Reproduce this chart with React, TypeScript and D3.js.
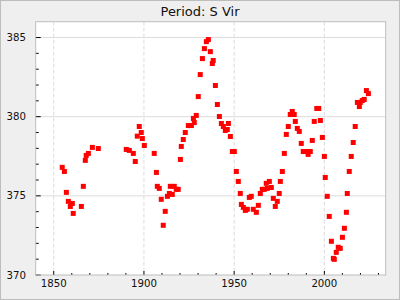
import React from "react";
import * as d3 from "d3";

const years: number[] = [
  1854.7, 1855.9, 1857.0, 1858.1, 1859.2, 1860.3, 1860.8, 1865.3, 1866.4, 1867.5,
  1868.0, 1869.2, 1871.4, 1874.7, 1890.2, 1891.9, 1894.1, 1895.2, 1896.3, 1897.4,
  1898.5, 1899.1, 1900.2, 1905.7, 1906.9, 1907.4, 1908.5, 1909.6, 1910.7, 1911.8,
  1913.0, 1914.1, 1914.6, 1915.7, 1916.8, 1917.9, 1919.0, 1920.2, 1920.7, 1921.8,
  1922.9, 1924.6, 1926.3, 1927.4, 1927.9, 1929.0, 1930.1, 1931.2, 1932.4, 1933.5,
  1934.6, 1935.7, 1936.8, 1937.9, 1938.4, 1939.6, 1940.7, 1941.8, 1942.9, 1944.0,
  1945.1, 1946.2, 1946.8, 1947.9, 1949.0, 1950.1, 1951.2, 1952.3, 1953.4, 1954.0,
  1955.1, 1956.2, 1957.3, 1958.4, 1959.5, 1960.6, 1962.3, 1963.4, 1964.5, 1965.6,
  1966.7, 1967.8, 1968.4, 1969.5, 1970.6, 1971.7, 1972.8, 1973.9, 1975.0, 1975.6,
  1976.7, 1977.8, 1978.9, 1980.0, 1981.1, 1982.2, 1983.3, 1983.9, 1985.0, 1986.1,
  1987.2, 1988.3, 1990.5, 1991.0, 1992.2, 1993.3, 1994.4, 1995.8, 1996.9, 1997.8,
  1998.9, 2000.0, 2000.5, 2001.6, 2002.7, 2003.9, 2005.0, 2005.5, 2006.6, 2007.7,
  2008.8, 2010.0, 2011.1, 2012.2, 2012.7, 2013.8, 2014.9, 2016.0, 2017.1, 2018.3,
  2019.4, 2019.9, 2021.0, 2022.1, 2023.3, 2024.4,
];

const periods: number[] = [
  376.80, 376.54, 375.22, 374.65, 374.33, 374.52, 373.89, 374.33, 375.60, 377.24,
  377.55, 377.68, 378.06, 377.99, 377.93, 377.87, 377.68, 377.17, 378.77, 379.38,
  379.00, 378.62, 378.18, 377.68, 376.48, 375.60, 375.47, 374.78, 373.14, 374.02,
  374.97, 375.15, 375.60, 375.09, 375.60, 375.41, 375.41, 377.30, 378.12, 378.56,
  379.00, 379.44, 379.44, 379.89, 379.63, 380.08, 381.27, 382.66, 383.67, 384.30,
  384.74, 384.87, 384.11, 383.36, 383.55, 381.97, 380.77, 380.01, 379.57, 379.38,
  379.13, 379.19, 379.57, 378.75, 377.80, 377.80, 376.54, 375.91, 375.15, 374.46,
  374.27, 374.08, 374.15, 374.90, 374.97, 374.15, 373.96, 374.40, 375.15, 375.41,
  375.41, 375.79, 375.47, 375.91, 375.53, 374.84, 374.33, 374.65, 375.15, 375.91,
  376.54, 377.68, 378.88, 379.38, 380.14, 380.33, 380.14, 379.70, 379.26, 379.07,
  378.31, 377.80, 377.80, 377.62, 377.80, 378.50, 379.70, 380.52, 380.52, 379.76,
  378.69, 377.49, 376.16, 374.97, 373.70, 372.13, 371.05, 370.99, 371.43, 371.75,
  371.68, 372.38, 372.95, 373.96, 375.15, 376.54, 377.49, 378.37, 379.38, 380.90,
  380.64, 380.90, 381.02, 381.09, 381.65, 381.46,
];

const xMajorTicks: number[] = [1850, 1900, 1950, 2000];
const yMajorTicks: number[] = [370, 375, 380, 385];
const titleText = "Period: S Vir";

const W = 400;
const H = 300;
const PL = 35.7;
const PR = 385.7;
const PT = 21.7;
const PB = 275;
const FONT = "DejaVu Sans, sans-serif";

export default function App() {
  const x = d3.scaleLinear().domain([1840, 2034]).range([PL, PR]);
  const y = d3.scaleLinear().domain([370, 386]).range([PB, PT]);
  const xMinor = d3.range(1850, 2034, 10).filter((v) => !xMajorTicks.includes(v));
  const yMinor = d3.range(371, 386, 1).filter((v) => !yMajorTicks.includes(v));
  const pts = years.map((yr, i) => ({ yr, p: periods[i] }));
  const S = 5;
  return (
    <svg
      width={W}
      height={H}
      style={{ position: "fixed", left: 0, top: 0, display: "block" }}
      fontFamily={FONT}
    >
      <rect x={0.5} y={0.5} width={W - 1} height={H - 1} fill="#efefef" stroke="#bdbdbd" />
      <text x={200} y={15.7} textAnchor="middle" fontSize={13} fill="#111">
        {titleText}
      </text>
      <rect x={PL} y={PT} width={PR - PL} height={PB - PT} fill="#ffffff" />
      {xMajorTicks.map((t) => (
        <line key={"gx" + t} x1={x(t)} x2={x(t)} y1={PT} y2={PB} stroke="#dcdcdc" strokeDasharray="4,2" />
      ))}
      {yMajorTicks.filter((t) => t > 370).map((t) => (
        <line key={"gy" + t} x1={PL} x2={PR} y1={y(t)} y2={y(t)} stroke="#dcdcdc" />
      ))}
      {xMajorTicks.map((t) => (
        <line key={"tx" + t} x1={x(t)} x2={x(t)} y1={PB} y2={PB - 4} stroke="#000" />
      ))}
      {xMinor.map((t) => (
        <line key={"mx" + t} x1={x(t)} x2={x(t)} y1={PB} y2={PB - 2} stroke="#000" />
      ))}
      {yMajorTicks.map((t) => (
        <line key={"ty" + t} x1={PL} x2={PL + 5} y1={y(t)} y2={y(t)} stroke="#000" />
      ))}
      {yMinor.map((t) => (
        <line key={"my" + t} x1={PL} x2={PL + 3} y1={y(t)} y2={y(t)} stroke="#000" />
      ))}
      {pts.map((d, i) => (
        <rect key={"p" + i} x={x(d.yr) - S / 2} y={y(d.p) - S / 2} width={S} height={S} fill="#ff0000" />
      ))}
      <rect x={PL} y={PT} width={PR - PL} height={PB - PT} fill="none" stroke="#bdbdbd" />
      {xMajorTicks.map((t) => (
        <text key={"lx" + t} x={x(t)} y={286.7} textAnchor="middle" fontSize={10.2} fill="#111">
          {t}
        </text>
      ))}
      {yMajorTicks.map((t) => (
        <text key={"ly" + t} x={26} y={y(t) + 3.6} textAnchor="end" fontSize={10.2} fill="#111">
          {t}
        </text>
      ))}
    </svg>
  );
}
